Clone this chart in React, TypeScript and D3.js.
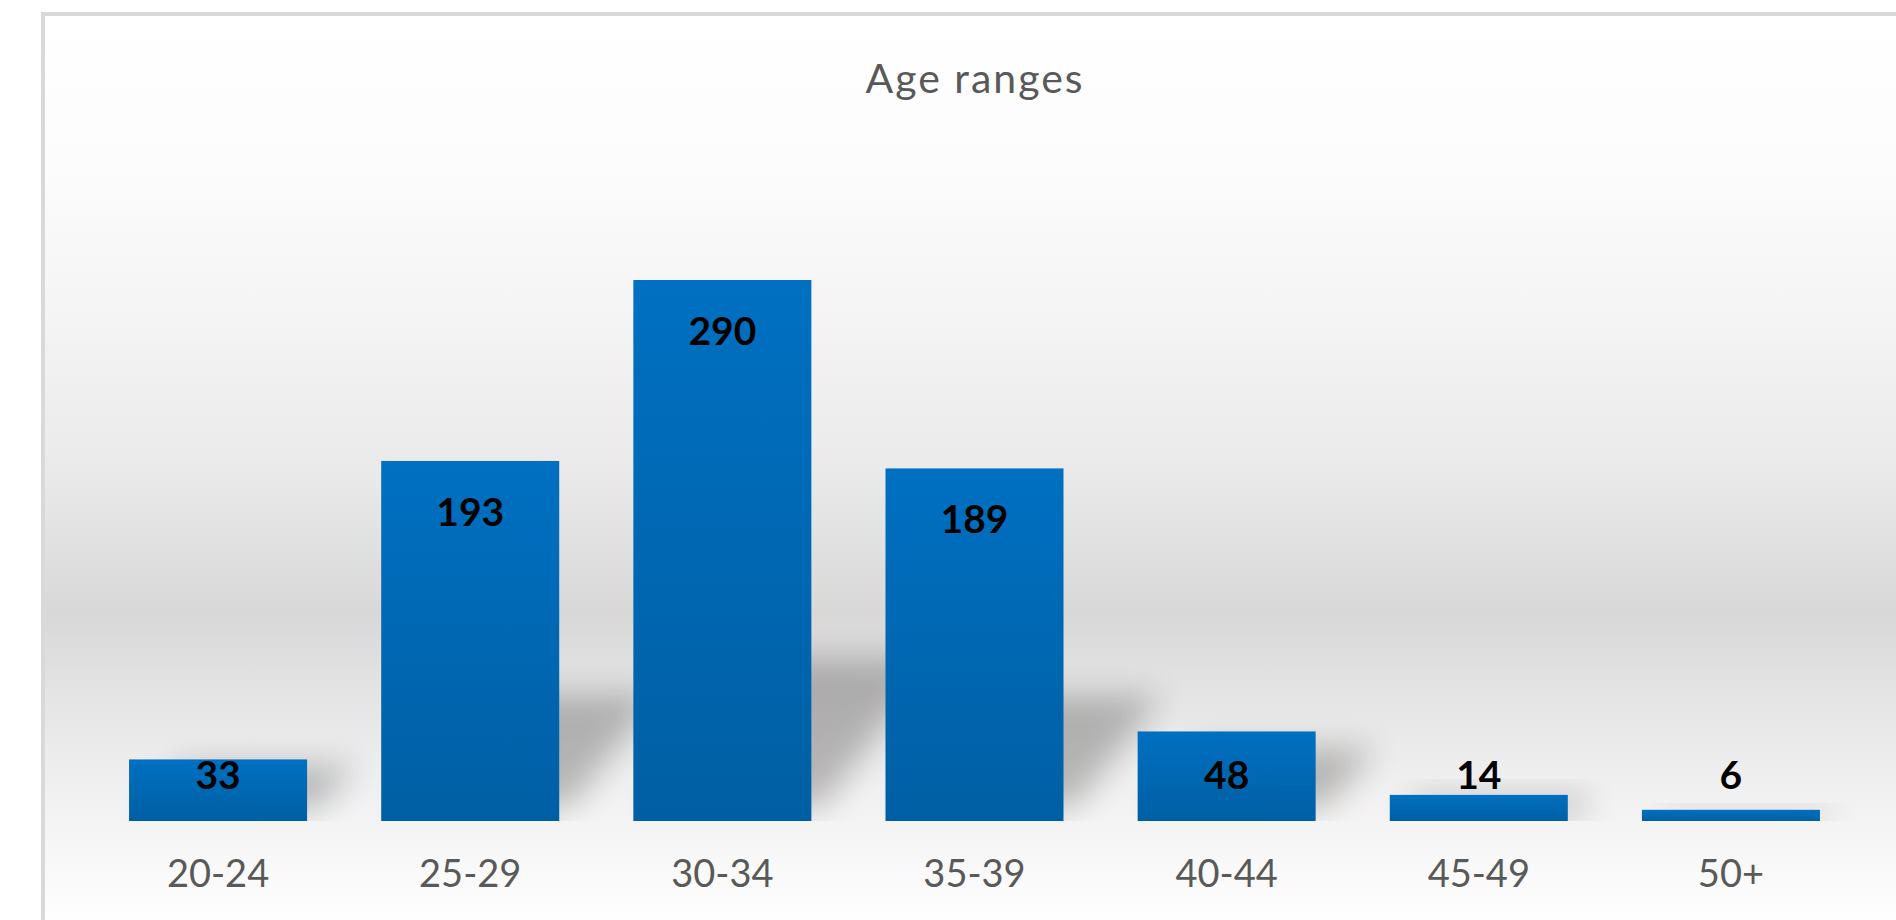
import React from "react";
import * as d3 from "d3";

const categories = ["20-24", "25-29", "30-34", "35-39", "40-44", "45-49", "50+"];
const counts = [33, 193, 290, 189, 48, 14, 6];
const title = "Age ranges";

const W = 1896;
const H = 920;

export default function App() {
  const x = d3
    .scaleBand<string>()
    .domain(categories)
    .range([92, 1857])
    .paddingInner(0.294)
    .paddingOuter(0.147);
  const y = d3.scaleLinear().domain([0, 300]).range([821, 821 - (300 * 541) / 290]);
  const base = y(0);
  const bw = x.bandwidth();
  const font = "Lato, 'Open Sans', sans-serif";
  const stops: [number, string][] = [
    [12, "#ffffff"],
    [170, "#fcfcfc"],
    [320, "#f4f4f4"],
    [470, "#eaeaea"],
    [615, "#d8d8d8"],
    [680, "#e2e2e2"],
    [770, "#eeeeee"],
    [860, "#f8f8f8"],
    [920, "#fefefe"],
  ];

  return (
    <svg
      width={W}
      height={H}
      style={{ position: "absolute", left: 0, top: 0, display: "block" }}
    >
      <defs>
        <linearGradient id="bg" gradientUnits="userSpaceOnUse" x1="0" y1="12" x2="0" y2="920">
          {stops.map(([p, c]) => (
            <stop key={p} offset={(p - 12) / 908} stopColor={c} />
          ))}
        </linearGradient>
        <linearGradient id="bar" x1="0" y1="0" x2="0" y2="1">
          <stop offset="0" stopColor="#0070c1" />
          <stop offset="1" stopColor="#005fa4" />
        </linearGradient>
        <filter id="blur" x="-100%" y="-100%" width="300%" height="300%">
          <feGaussianBlur stdDeviation="16" />
        </filter>
        <clipPath id="above">
          <rect x={0} y={0} width={W} height={base} />
        </clipPath>
      </defs>

      <rect x={43} y={14} width={W + 20} height={H + 20} fill="url(#bg)" stroke="#d9d9d9" strokeWidth={4} />

      <text
        x={975}
        y={93}
        textAnchor="middle"
        fontFamily={font}
        fontSize={41}
        letterSpacing={2}
        fill="#595959"
      >
        {title}
      </text>

      <g clipPath="url(#above)">
        {categories.map((c, i) => {
          const x0 = x(c)!;
          const h = base - y(counts[i]);
          const sh = Math.min(h * 0.9, 0.2 * h + 55);
          const d = sh * 0.7;
          const lift = Math.min(14, h * 0.2);
          const pts = [
            [x0 + 14, base - lift],
            [x0 + bw + 10, base - lift],
            [x0 + bw + 10 + d, base - sh],
            [x0 + 14 + d, base - sh],
          ];
          return (
            <polygon
              key={c}
              points={pts.map((p) => p.join(",")).join(" ")}
              fill="#000"
              opacity={0.24}
              filter="url(#blur)"
            />
          );
        })}
      </g>

      {categories.map((c, i) => (
        <rect
          key={c}
          x={x(c)}
          y={y(counts[i])}
          width={bw}
          height={base - y(counts[i])}
          fill="url(#bar)"
        />
      ))}

      {categories.map((c, i) => (
        <text
          key={c}
          x={x(c)! + bw / 2}
          y={Math.min(y(counts[i]) + 65, base - 32)}
          textAnchor="middle"
          fontFamily={font}
          fontWeight="bold"
          fontSize={39}
          fill="#000"
        >
          {counts[i]}
        </text>
      ))}

      {categories.map((c) => (
        <text
          key={c}
          x={x(c)! + bw / 2}
          y={887}
          textAnchor="middle"
          fontFamily={font}
          fontSize={38}
          fill="#595959"
        >
          {c}
        </text>
      ))}
    </svg>
  );
}
